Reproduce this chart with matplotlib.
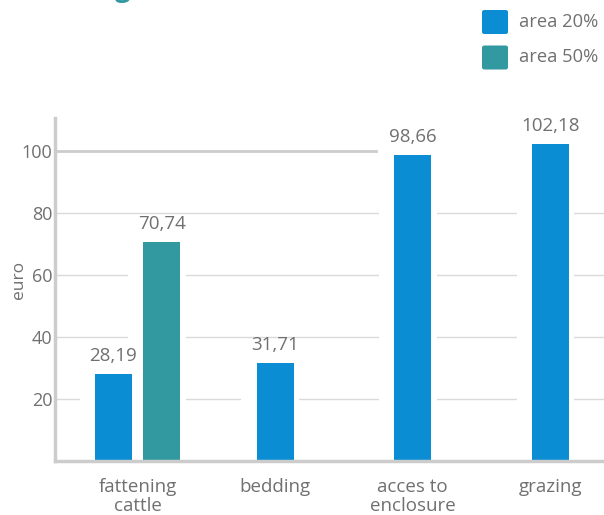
import matplotlib.pyplot as plt
import numpy as np
from matplotlib.patches import FancyBboxPatch

# data
categories = ['fattening\ncattle', 'bedding', 'acces to\nenclosure', 'grazing']
area20 = [28.19, 31.71, 98.66, 102.18]
area50 = [70.74, None, None, None]
series_names = ['area 20%', 'area 50%']
yticks = [20, 40, 60, 80, 100]

plt.rcParams['font.family'] = ['Open Sans', 'DejaVu Sans']
blue = '#0a8dd3'
teal = '#3399a1'
grey_text = '#707070'
axis_grey = '#cccccc'

fig = plt.figure(figsize=(6.04, 5.15), dpi=100)
ax = fig.add_axes([55/604, 1-461/515, 549/604, (461-118)/515])

x = np.arange(len(categories))
bw = 0.27
off = 0.176

pos20 = [xi - off if b is not None else xi for xi, b in zip(x, area50)]
pos50 = [xi + off for xi, b in zip(x, area50) if b is not None]
val50 = [b for b in area50 if b is not None]

# white halo behind bars so gridlines break around them
halo_l, halo_r = 0.11, 0.04
allpos = pos20 + pos50
allval = area20 + val50
ax.bar([p - bw/2 - halo_l for p in allpos], allval, width=bw + halo_l + halo_r,
       align='edge', color='white', zorder=1)

ax.bar(pos20, area20, width=bw, color=blue, zorder=2, label=series_names[0])
ax.bar(pos50, val50, width=bw, color=teal, zorder=2, label=series_names[1])

# value labels
for p, v in zip(allpos, allval):
    ax.annotate(f'{v:.2f}'.replace('.', ','), (p, v), xytext=(0, 13),
                textcoords='offset pixels', ha='center', va='baseline',
                fontsize=13.5, color=grey_text)

# gridlines
for t in yticks[:-1]:
    ax.axhline(t, color='#dadada', lw=1, zorder=0.5)
ax.axhline(100, xmin=0, xmax=(376-55)/549, color=axis_grey, lw=2, zorder=0.5)

ax.set_xlim(-0.60, 3.39)
ax.set_ylim(0, 110.6)
ax.set_yticks(yticks)
ax.set_xticks(x)
ax.set_xticklabels(categories, fontsize=13.5, color=grey_text, linespacing=1.12)
ax.tick_params(axis='y', length=0, pad=2, labelsize=13, labelcolor=grey_text)
ax.tick_params(axis='x', length=0, pad=12)

for s in ['top', 'right']:
    ax.spines[s].set_visible(False)
for s in ['left', 'bottom']:
    ax.spines[s].set_color(axis_grey)
    ax.spines[s].set_linewidth(2.5)

fig.text(19/604, 1-280/515, 'euro', rotation=90, ha='center', va='center',
         fontsize=12.5, color=grey_text)

# legend
for i, (name, c) in enumerate(zip(series_names, [blue, teal])):
    top = 10 + i*35.5
    fig.patches.append(FancyBboxPatch((482/604, 1-(top+24)/515), 26/604, 24/515,
                                      boxstyle='round,pad=0,rounding_size=0.004',
                                      transform=fig.transFigure, color=c, lw=0))
    fig.text(519/604, 1-(top+12)/515, name, ha='left', va='center',
             fontsize=13.2, color=grey_text)

# cut-off title at top
fig.text(115/604, 1 + 4/515, 'g', color=teal, fontsize=20, fontweight='bold',
         va='baseline', ha='left')

fig.savefig('out.png', dpi=100)
